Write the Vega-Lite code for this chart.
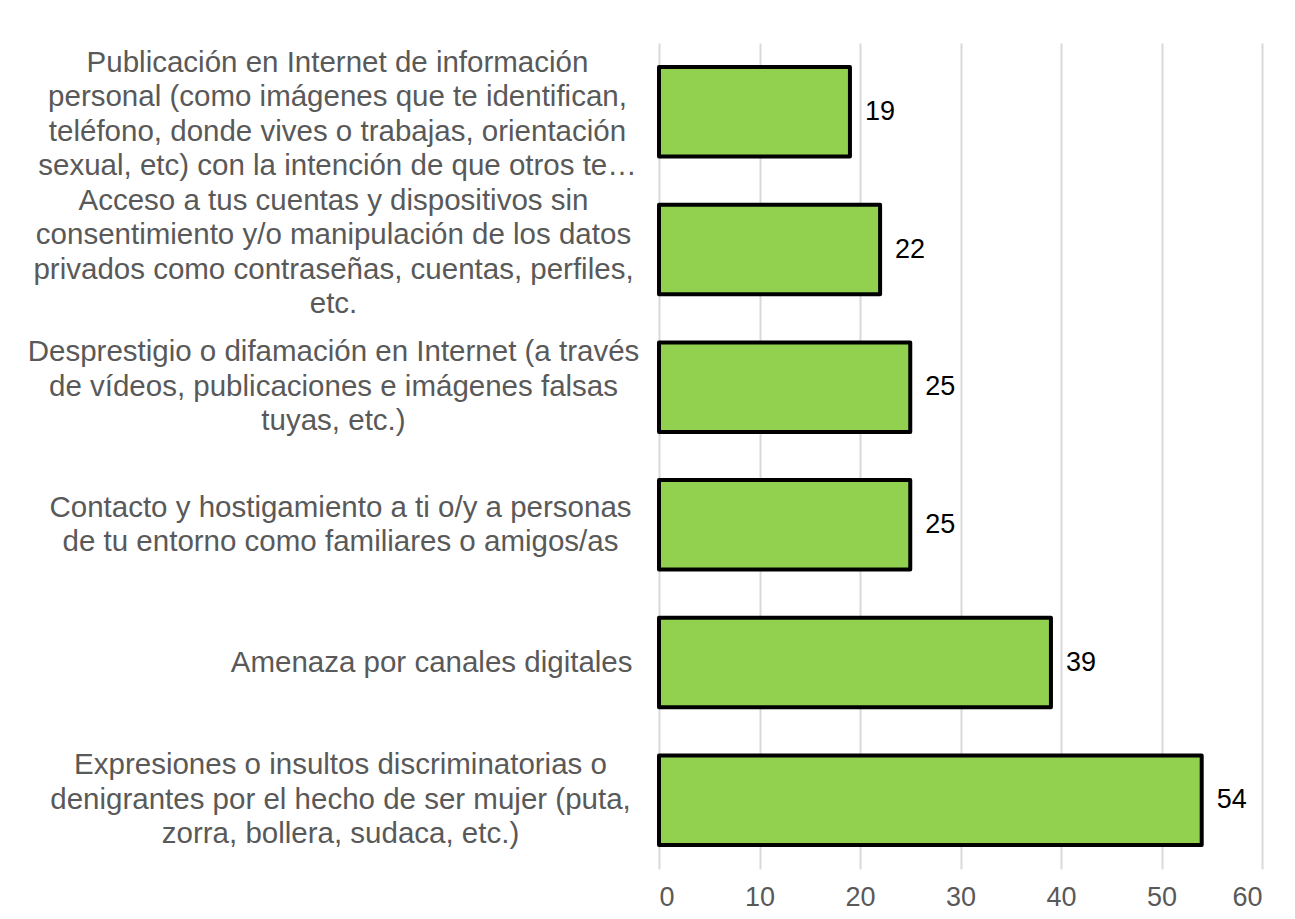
{
  "$schema": "https://vega.github.io/schema/vega-lite/v6.json",
  "width": 603,
  "height": 826,
  "autosize": {"type": "none"},
  "padding": {"left": 659, "top": 43, "right": 33, "bottom": 50},
  "background": "white",
  "config": {
    "view": {"stroke": null},
    "font": "Liberation Sans",
    "text": {"font": "Liberation Sans"}
  },
  "data": {
    "values": [
      {"cat": "Publicación en Internet de información|personal (como imágenes que te identifican,|teléfono, donde vives o trabajas, orientación|sexual, etc) con la intención de que otros te…", "value": 19},
      {"cat": "Acceso a tus cuentas y dispositivos sin|consentimiento y/o manipulación de los datos|privados como contraseñas, cuentas, perfiles,|etc.", "value": 22},
      {"cat": "Desprestigio o difamación en Internet (a través|de vídeos, publicaciones e imágenes falsas|tuyas, etc.)", "value": 25},
      {"cat": "Contacto y hostigamiento a ti o/y a personas|de tu entorno como familiares o amigos/as", "value": 25},
      {"cat": "Amenaza por canales digitales", "value": 39},
      {"cat": "Expresiones o insultos discriminatorias o|denigrantes por el hecho de ser mujer (puta,|zorra, bollera, sudaca, etc.)", "value": 54}
    ]
  },
  "encoding": {
    "y": {
      "field": "cat",
      "type": "nominal",
      "sort": null,
      "scale": {"paddingInner": 0.35, "paddingOuter": 0.175},
      "axis": {
        "title": null,
        "domain": false,
        "ticks": false,
        "labelExpr": "split(datum.label, '|')",
        "labelLimit": 0,
        "labelFont": "Liberation Sans",
        "labelFontSize": 29.5,
        "labelLineHeight": 34.5,
        "labelColor": "#595959",
        "labelAlign": {"condition": {"test": "datum.value === 'Amenaza por canales digitales'", "value": "right"}, "value": "center"},
        "labelPadding": {
          "condition": [
            {"test": "datum.value === 'Amenaza por canales digitales'", "value": 27},
            {"test": "indexof(datum.value, 'Acceso') === 0 || indexof(datum.value, 'Desprestigio') === 0", "value": 326},
            {"test": "indexof(datum.value, 'Publicación') === 0", "value": 322}
          ],
          "value": 319
        },
        "labelOffset": {
          "condition": [
            {"test": "length(split(datum.value, '|')) === 4", "value": -49},
            {"test": "length(split(datum.value, '|')) === 3", "value": -35},
            {"test": "length(split(datum.value, '|')) === 2", "value": -17}
          ],
          "value": 0
        }
      }
    },
    "x": {
      "field": "value",
      "type": "quantitative",
      "scale": {"domain": [0, 60], "nice": false},
      "axis": {
        "title": null,
        "values": [0, 10, 20, 30, 40, 50, 60],
        "domain": false,
        "ticks": false,
        "grid": true,
        "gridColor": "#D9D9D9",
        "gridWidth": 2,
        "labelFont": "Liberation Sans",
        "labelFontSize": 27,
        "labelColor": "#595959",
        "labelPadding": 15
      }
    }
  },
  "layer": [
    {
      "mark": {"type": "bar", "color": "#92D050", "stroke": "#000000", "strokeWidth": 4, "strokeJoin": "round"}
    },
    {
      "mark": {"type": "text", "align": "left", "baseline": "middle", "dx": 15, "fontSize": 27, "font": "Liberation Sans", "color": "#000000"},
      "encoding": {"text": {"field": "value", "type": "quantitative"}}
    }
  ]
}
